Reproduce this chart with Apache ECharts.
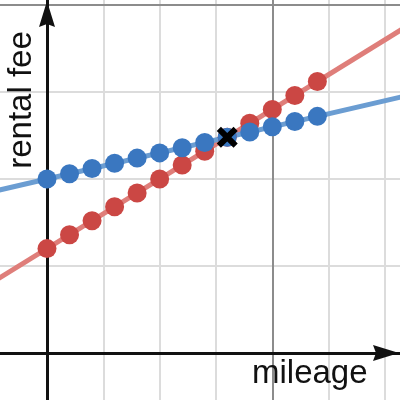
<!DOCTYPE html>
<html>
<head>
<meta charset="utf-8">
<script src="https://cdn.jsdelivr.net/npm/echarts@6/dist/echarts.min.js"></script>
<style>html,body{margin:0;padding:0;background:#fff;}#c{width:400px;height:400px;}</style>
</head>
<body>
<div id="c"></div>
<script>
// Data
const mileage = [0, 0.4, 0.8, 1.2, 1.6, 2.0, 2.4, 2.8, 3.2, 3.6, 4.0, 4.4, 4.8];
const feeBlue = [2.00, 2.06, 2.12, 2.18, 2.24, 2.30, 2.36, 2.42, 2.48, 2.54, 2.60, 2.66, 2.72];
const feeRed  = [1.20, 1.36, 1.52, 1.68, 1.84, 2.00, 2.16, 2.32, 2.48, 2.64, 2.80, 2.96, 3.12];
const lineX = [-1, 7];
const lineBlue = [1.85, 3.05];
const lineRed = [0.80, 4.00];
const crossing = [3.2, 2.48];
const majorX = [4];
const majorY = [4];
const xTitle = 'mileage';
const yTitle = 'rental fee';

const X_MIN = -1, X_MAX = 6.267, Y_MIN = -1, Y_MAX = 4.0575;

const chart = echarts.init(document.getElementById('c'), null, {renderer: 'canvas'});
const pairs = (xs, ys) => xs.map((x, i) => [x, ys[i]]);
const arrowPath = 'path://M8,0 L16,26 L8,23 L0,26 Z';
const axisLineStyle = {color: '#111', width: 3};

chart.setOption({
  animation: false,
  backgroundColor: '#fff',
  grid: {left: -9.33, right: 0, top: 0, bottom: -40, outerBoundsMode: 'none', containLabel: false},
  xAxis: [
    {type: 'value', min: X_MIN, max: X_MAX, interval: 1, z: 0,
     axisLine: {show: false}, axisTick: {show: false}, axisLabel: {show: false},
     splitLine: {show: true, showMinLine: false, showMaxLine: false, lineStyle: {color: '#dcdcdc', width: 2}}},
    {type: 'value', min: X_MIN, max: X_MAX, interval: 1, z: 2, position: 'bottom',
     axisLine: {show: true, onZero: true, onZeroAxisIndex: 0, symbol: ['none', arrowPath], symbolSize: [16, 26], symbolOffset: [0, -14], lineStyle: axisLineStyle},
     axisTick: {show: false}, axisLabel: {show: false}, splitLine: {show: false}}
  ],
  yAxis: [
    {type: 'value', min: Y_MIN, max: Y_MAX, interval: 1, z: 0,
     axisLine: {show: false}, axisTick: {show: false}, axisLabel: {show: false},
     splitLine: {show: true, showMinLine: false, showMaxLine: false, lineStyle: {color: '#dcdcdc', width: 2}}},
    {type: 'value', min: Y_MIN, max: Y_MAX, interval: 1, z: 2, position: 'left',
     axisLine: {show: true, onZero: true, onZeroAxisIndex: 0, symbol: ['none', arrowPath], symbolSize: [16, 26], symbolOffset: [0, -14], lineStyle: axisLineStyle},
     axisTick: {show: false}, axisLabel: {show: false}, splitLine: {show: false}}
  ],
  graphic: [
    {type: 'text', x: 252, y: 374, z: 10,
     style: {text: xTitle, font: '33px "Liberation Sans", Arial, sans-serif', fill: '#111', align: 'left', verticalAlign: 'middle'}},
    {type: 'text', x: 22, y: 100, rotation: Math.PI / 2, z: 10,
     style: {text: yTitle, font: '33px "Liberation Sans", Arial, sans-serif', fill: '#111', align: 'center', verticalAlign: 'middle'}}
  ],
  series: [
    {type: 'line', name: 'redLine', xAxisIndex: 0, yAxisIndex: 0, z: 3, data: pairs(lineX, lineRed),
     showSymbol: false, symbol: 'none', lineStyle: {color: '#df7e7a', width: 5}, silent: true,
     markLine: {silent: true, z: 1, symbol: 'none', animation: false, label: {show: false},
       lineStyle: {color: '#8c8c8c', width: 2, type: 'solid'},
       data: majorX.map(v => ({xAxis: v})).concat(majorY.map(v => ({yAxis: v})))}},
    {type: 'line', name: 'blueLine', xAxisIndex: 0, yAxisIndex: 0, z: 3, data: pairs(lineX, lineBlue),
     showSymbol: false, symbol: 'none', lineStyle: {color: '#6b9dd2', width: 5}, silent: true},
    {type: 'scatter', name: 'red', xAxisIndex: 0, yAxisIndex: 0, z: 4, data: pairs(mileage, feeRed),
     symbol: 'circle', symbolSize: 19, itemStyle: {color: '#cb4744', opacity: 1}},
    {type: 'scatter', name: 'blue', xAxisIndex: 0, yAxisIndex: 0, z: 4, data: pairs(mileage, feeBlue),
     symbol: 'circle', symbolSize: 19, itemStyle: {color: '#3a77c0', opacity: 1}},
    {type: 'scatter', name: 'crossing', xAxisIndex: 0, yAxisIndex: 0, z: 5, data: [crossing],
     symbol: 'path://M4,0 L10,6 L16,0 L20,4 L14,10 L20,16 L16,20 L10,14 L4,20 L0,16 L6,10 L0,4 Z',
     symbolSize: 21, itemStyle: {color: '#000', opacity: 1}}
  ]
});
</script>
</body>
</html>
